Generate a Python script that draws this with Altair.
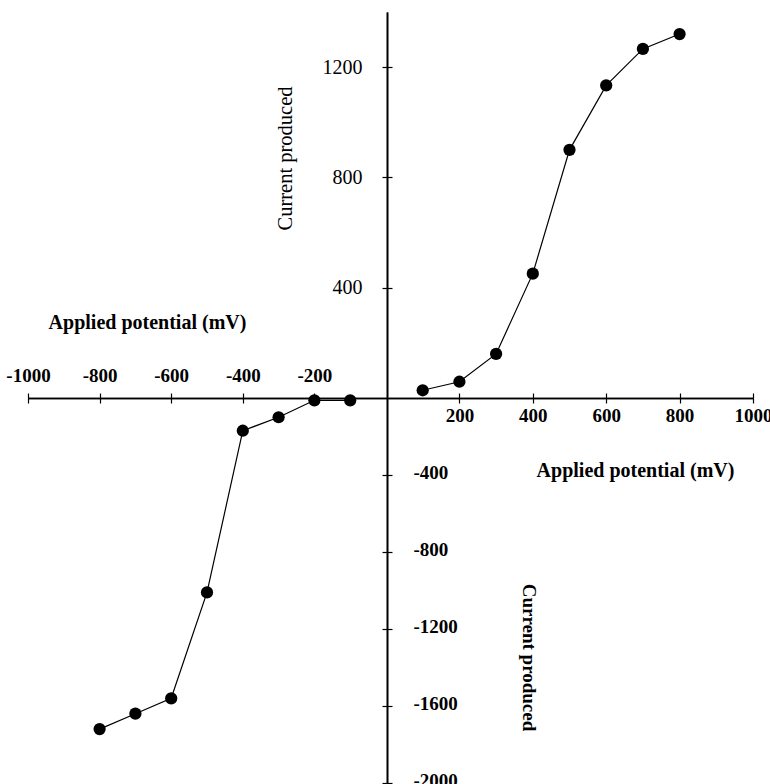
import altair as alt
import pandas as pd

# data
neg_x = [-800, -700, -600, -500, -400, -300, -200, -100]
neg_y = [-1720, -1640, -1560, -1010, -170, -100, -12, -12]
pos_x = [100, 200, 300, 400, 500, 600, 700, 800]
pos_y = [28, 59, 160, 451, 900, 1134, 1266, 1320]

x_ticks = [-1000, -800, -600, -400, -200, 200, 400, 600, 800, 1000]
y_ticks = [-2000, -1600, -1200, -800, -400, 400, 800, 1200]

x_title = "Applied potential (mV)"
y_title = "Current produced"

df = pd.DataFrame({
    "x": neg_x + pos_x,
    "y": neg_y + pos_y,
    "side": ["neg"] * len(neg_x) + ["pos"] * len(pos_x),
})

W, H = 770, 784
X0, Y0 = 386, 398  # pixel of the origin

xs = alt.Scale(domain=[-1000, 0, 1000], range=[28, X0, 753], nice=False, zero=False)
ys = alt.Scale(domain=[-2000, 0, 1400], range=[783, Y0, 12], nice=False, zero=False)

FONT = "Liberation Serif"
common = dict(grid=False, domainColor="black", tickColor="black", labelColor="black",
              titleColor="black", labelFont=FONT, titleFont=FONT, domainWidth=1.6,
              tickWidth=1.2, tickSize=5, labelFontSize=19, titleFontSize=20,
              labelOverlap=False, labelFlush=False)


def axis(**kw):
    d = dict(common)
    d.update(kw)
    return alt.Axis(**d)


ax_top = axis(orient="top", offset=-Y0, values=x_ticks,
              labelExpr="datum.value < 0 ? '' + datum.value : ''",
              labelFontWeight="bold", labelPadding=8,
              title=x_title, titleFontWeight="bold", titleX=147, titleY=-76,
              titleAlign="center", titleBaseline="middle", titleAngle=0)
ax_bottom = axis(orient="bottom", offset=Y0 - H, values=x_ticks,
                 labelExpr="datum.value > 0 ? '' + datum.value : ''",
                 labelFontWeight="bold", labelPadding=3,
                 title=x_title, titleFontWeight="bold", titleX=635, titleY=72,
                 titleAlign="center", titleBaseline="middle", titleAngle=0)
ax_left = axis(orient="left", offset=-(X0 + 1), values=y_ticks,
               labelExpr="datum.value > 0 ? '' + datum.value : ''",
               labelFontWeight="normal", labelFontSize=20, labelPadding=20,
               title=y_title, titleFontWeight="normal", titleFontSize=20.5,
               titleX=-102, titleY=158,
               titleAlign="center", titleBaseline="middle", titleAngle=270)
ax_right = axis(orient="right", offset=(X0 + 1) - W, values=y_ticks,
                labelExpr="datum.value < 0 ? '' + datum.value : ''",
                labelFontWeight="bold", labelPadding=21, labelOffset=-3,
                title=y_title, titleFontWeight="bold", titleFontSize=19,
                titleX=141, titleY=657,
                titleAlign="center", titleBaseline="middle", titleAngle=90)

base = alt.Chart(df)

line = base.mark_line(color="black", strokeWidth=1.2).encode(
    x=alt.X("x:Q", scale=xs, axis=ax_top),
    y=alt.Y("y:Q", scale=ys, axis=ax_left),
    detail="side:N",
)

points = base.mark_circle(color="black", opacity=1, size=150).encode(
    x=alt.X("x:Q", scale=xs, axis=ax_bottom),
    y=alt.Y("y:Q", scale=ys, axis=ax_right),
)

chart = (
    alt.layer(line, points)
    .resolve_axis(x="independent", y="independent")
    .properties(width=W, height=H, padding=0,
                autosize=alt.AutoSizeParams(type="none"), background="white")
    .configure_view(stroke=None)
)

chart.save("out.html", embed_options={"renderer": "svg", "actions": False})
